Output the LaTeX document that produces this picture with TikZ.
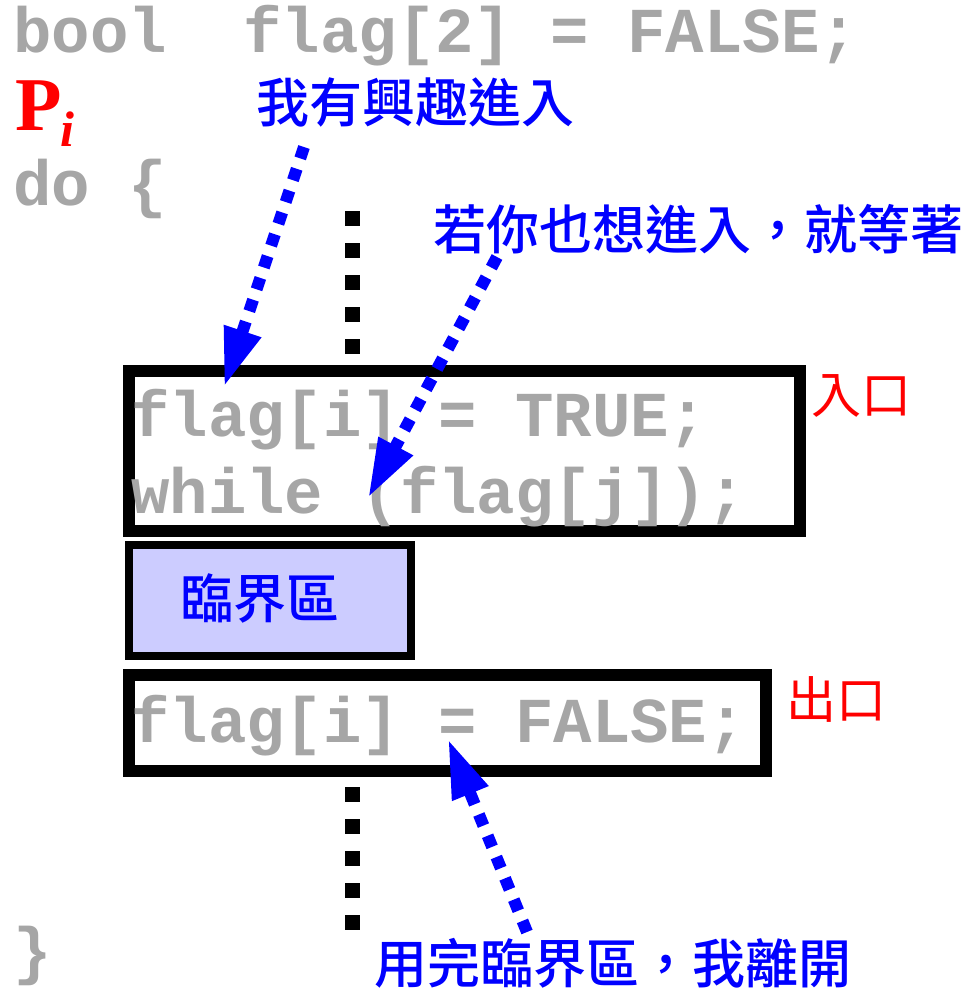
\documentclass[tikz,border=0pt]{standalone}
\usepackage{fontspec}
\setmainfont{Liberation Serif}
\setmonofont{Liberation Mono}
\newfontfamily\cjk{Noto Sans CJK TC}[BoldFont={Noto Sans CJK TC Medium}]
\usetikzlibrary{arrows.meta}
\definecolor{codegray}{RGB}{166,166,166}
\definecolor{csfill}{RGB}{204,204,255}
\begin{document}
\begin{tikzpicture}[x=1pt,y=-1pt,
  code/.style={inner sep=0pt, anchor=base west, text=codegray,
    font=\ttfamily\bfseries\fontsize{64}{70}\selectfont},
  bluelabel/.style={inner sep=0pt, text=blue, font=\cjk\bfseries\fontsize{53}{60}\selectfont},
  redlabel/.style={inner sep=0pt, text=red, font=\cjk\fontsize{50}{56}\selectfont},
  boxframe/.style={draw=black, line width=12pt, inner sep=0pt},
  csbox/.style={draw=black, line width=8pt, fill=csfill, inner sep=0pt},
  blackdots/.style={draw=black, line width=15pt, dash pattern=on 15pt off 17pt},
  bluearrow/.style={draw=blue, line width=12pt, dash pattern=on 12pt off 11pt,
    -{Triangle[length=59pt,width=36pt]}},
]
\useasboundingbox (0,0) rectangle (969,988);

% code text
\node[code] (decl) at (13,52) {bool\ \ flag[2] = FALSE;};
\node[inner sep=0pt, anchor=base west, text=red, font=\bfseries\fontsize{76}{80}\selectfont] (P) at (15,130) {P};
\node[inner sep=0pt, anchor=base west, text=red, font=\bfseries\itshape\fontsize{50}{56}\selectfont] (Pi) at (60,146) {i};
\node[code] (do) at (13,205) {do \{};
\node[code] (close) at (13,972) {\}};

% boxes
\node[boxframe, minimum width=671pt, minimum height=160pt] (entry) at (464.5,451) {};
\node[code] (l1) at (131,436) {flag[i] = TRUE;};
\node[code] (l2) at (131,513) {while (flag[j]);};
\node[csbox, minimum width=282pt, minimum height=111pt] (cs) at (270,600.5) {};
\node[bluelabel] (cslabel) at (260,598) {臨界區};
\node[boxframe, minimum width=637pt, minimum height=96pt] (exit) at (447.5,723) {};
\node[code] (l3) at (131,742) {flag[i] = FALSE;};

% red labels
\node[redlabel] (inlabel) at (861,396) {入口};
\node[redlabel] (outlabel) at (836,699) {出口};

% black dotted lines
\coordinate (d1a) at (352,211);
\coordinate (d1b) at (352,354);
\coordinate (d2a) at (352,787);
\coordinate (d2b) at (352,930);
\draw[blackdots] (d1a) -- (d1b);
\draw[blackdots] (d2a) -- (d2b);

% blue labels
\node[bluelabel] (lab1) at (415,102) {我有興趣進入};
\node[bluelabel] (lab2) at (698,229) {若你也想進入，就等著};
\node[bluelabel] (lab3) at (613,963) {用完臨界區，我離開};

% blue arrows
\coordinate (a1s) at (304,147);
\coordinate (a1t) at (224,387);
\coordinate (a2s) at (497,257);
\coordinate (a2t) at (368,498);
\coordinate (a3s) at (527,932);
\coordinate (a3t) at (448,739);
\draw[bluearrow] (a1s) -- (a1t);
\draw[bluearrow] (a2s) -- (a2t);
\draw[bluearrow] (a3s) -- (a3t);
\end{tikzpicture}
\end{document}
